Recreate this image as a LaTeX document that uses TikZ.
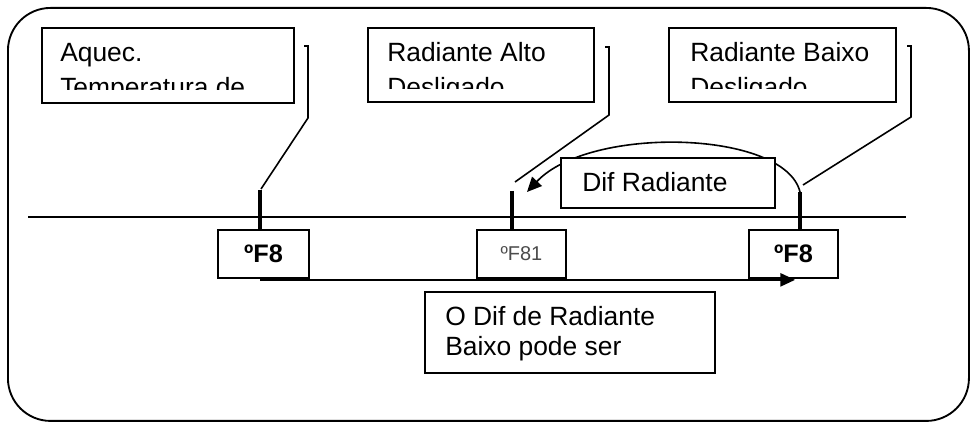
\documentclass[tikz,border=0pt]{standalone}
\usepackage{fontspec}
\setmainfont{Liberation Sans}
\usetikzlibrary{arrows.meta}
\begin{document}
\begin{tikzpicture}[x=0.75pt,y=-0.75pt,
  frame/.style={draw, line width=1.4pt, rounded corners=32pt},
  box/.style={draw, line width=1.4pt, fill=white, inner sep=0pt, anchor=north west},
  txt/.style={inner sep=0pt, anchor=base west, font=\fontsize{19.8}{22}\selectfont},
  valb/.style={inner sep=0pt, font=\bfseries\fontsize{19}{22}\selectfont},
  valg/.style={inner sep=0pt, text=black!70, font=\fontsize{15}{18}\selectfont},
  leader/.style={draw, line width=1.2pt},
  tick/.style={draw, line width=3.2pt},
  axis/.style={draw, line width=1.3pt},
  arr/.style={draw, line width=1.2pt, -{Triangle[length=11pt,width=10pt]}}]
\useasboundingbox (0,0) rectangle (971,423);
% outer frame
\node[frame, inner sep=0pt, minimum width=961*0.75pt, minimum height=413*0.75pt, anchor=north west] (frame) at (7,7) {};
% axis
\coordinate (axL) at (28,217);
\coordinate (axR) at (906,217);
\draw[axis] (axL) -- (axR);
% top boxes
\node[box, minimum width=252*0.75pt, minimum height=75*0.75pt] (b1) at (41,27) {};
\node[box, minimum width=226*0.75pt, minimum height=74*0.75pt] (b2) at (367,27) {};
\node[box, minimum width=227*0.75pt, minimum height=74*0.75pt] (b3) at (668,27) {};
\begin{scope}
\clip (41,27) rectangle (293,90);
\node[txt] (b1a) at (60,62) {Aquec.};
\node[txt] (b1b) at (60,97) {Temperatura de};
\end{scope}
\begin{scope}
\clip (367,27) rectangle (593,89);
\node[txt] (b2a) at (387,62) {Radiante Alto};
\node[txt] (b2b) at (387,97) {Desligado};
\end{scope}
\begin{scope}
\clip (668,27) rectangle (895,89);
\node[txt] (b3a) at (690,62) {Radiante Baixo};
\node[txt] (b3b) at (690,97) {Desligado};
\end{scope}
% value boxes
\node[box, minimum width=91*0.75pt, minimum height=48*0.75pt] (v1) at (217,229) {};
\node[valb] (v1t) at (v1.center) {ºF8};
\node[box, minimum width=89*0.75pt, minimum height=48*0.75pt] (v2) at (476,229) {};
\node[valg] (v2t) at (v2.center) {ºF81};
\node[box, minimum width=89*0.75pt, minimum height=48*0.75pt] (v3) at (748,229) {};
\node[valb] (v3t) at (v3.center) {ºF8};
% ticks
\coordinate (k1) at (260,190);
\coordinate (k2) at (512,191);
\coordinate (k3) at (800,192);
\draw[tick] (k1) -- (k1 |- v1.north);
\draw[tick] (k2) -- (k2 |- v2.north);
\draw[tick] (k3) -- (k3 |- v3.north);
% leaders
\coordinate (l1a) at (304,46); \coordinate (l1b) at (308,46); \coordinate (l1c) at (308,118); \coordinate (l1d) at (261,189);
\draw[leader] (l1a) -- (l1b) -- (l1c) -- (l1d);
\coordinate (l2a) at (605,47); \coordinate (l2b) at (609,47); \coordinate (l2c) at (609,115); \coordinate (l2d) at (515,182);
\draw[leader] (l2a) -- (l2b) -- (l2c) -- (l2d);
\coordinate (l3a) at (907,46); \coordinate (l3b) at (911,46); \coordinate (l3c) at (911,117); \coordinate (l3d) at (803,185);
\draw[leader] (l3a) -- (l3b) -- (l3c) -- (l3d);
% curved arrow behind Dif box
\coordinate (ctip) at (527,192);
\draw[arr] (k3) .. controls (785,130) and (590,125) .. (ctip);
\node[box, minimum width=214*0.75pt, minimum height=50*0.75pt] (dif) at (560,157) {};
\node[txt] (dift) at (582,192) {Dif Radiante};
% bottom arrow
\coordinate (btip) at (795,278);
\draw[arr] (v1.south -| k1) ++(0,1) coordinate (bstart) -- (btip |- bstart);
% note box
\node[box, minimum width=290*0.75pt, minimum height=81*0.75pt] (note) at (424,291) {};
\node[txt] (n1) at (445,326) {O Dif de Radiante};
\node[txt] (n2) at (445,356) {Baixo pode ser};
\end{tikzpicture}
\end{document}
